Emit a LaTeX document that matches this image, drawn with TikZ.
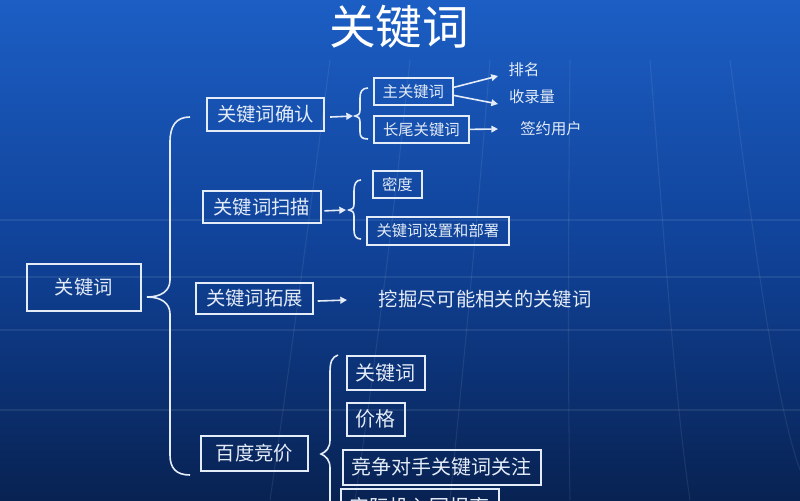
\documentclass[tikz,border=0pt]{standalone}
\usepackage{fontspec}
\setmainfont{Noto Sans CJK SC}
\usetikzlibrary{arrows.meta}
\definecolor{bgtop}{RGB}{28,94,196}
\definecolor{bgmid}{RGB}{16,66,152}
\definecolor{bgbot}{RGB}{8,34,82}
\definecolor{ink}{RGB}{228,236,248}
\tikzset{
  box/.style 2 args={draw=ink, line width=1.3pt, text=ink, inner sep=0pt, minimum width=#1*0.75pt, minimum height=#2*0.75pt, anchor=north west, align=center},
  lbl/.style={text=ink, inner sep=0pt},
  arr/.style={draw=ink, line width=1.2pt, -{Triangle[length=5pt,width=5pt]}},
  brace/.style={draw=ink, line width=1.2pt},
  grid/.style={draw=white, opacity=0.08, line width=0.8pt},
  big/.style={font=\fontsize{14.5pt}{14.5pt}\selectfont},
  small/.style={font=\fontsize{11.5pt}{11.5pt}\selectfont}
}
\begin{document}
\begin{tikzpicture}[x=0.75pt,y=-0.75pt]
\useasboundingbox (0,0) rectangle (800,500);
\shade[top color=bgtop, bottom color=bgbot, middle color=bgmid] (0,0) rectangle (800,500);
% faint globe grid
\draw[grid] (0,220) -- (800,220);
\draw[grid] (0,277) -- (800,277);
\draw[grid] (0,330) -- (800,330);
\draw[grid] (0,410) -- (800,410);
\draw[grid] (490,60) .. controls (475,250) and (460,400) .. (450,500);
\draw[grid] (570,60) .. controls (568,250) and (568,400) .. (570,500);
\draw[grid] (650,60) .. controls (665,250) and (675,400) .. (690,500);
\draw[grid] (730,60) .. controls (755,250) and (775,400) .. (800,470);
\draw[grid] (410,60) .. controls (390,250) and (370,400) .. (355,500);
\draw[grid] (330,60) .. controls (305,250) and (285,400) .. (270,500);
% title
\node[lbl, text=white, font=\fontsize{35pt}{35pt}\selectfont] (title) at (399,27) {关键词};
% root
\node[box={114}{47}, big] (root) at (26,263) {关键词};
% big brace
\draw[brace] (190,117) .. controls (176,117) and (170,126) .. (170,142) -- (170,280) .. controls (170,291) and (161,297) .. (147,297) .. controls (161,297) and (170,303) .. (170,314) -- (170,455) .. controls (170,468) and (176,475) .. (190,475);
% level 1
\node[box={117}{33}, big] (b1) at (206,97) {关键词确认};
\node[box={118}{32}, big] (b2) at (202,190) {关键词扫描};
\node[box={117}{31}, big] (b3) at (195,282) {关键词拓展};
\node[box={107}{35}, big] (b4) at (200,435) {百度竞价};
% branch 1
\coordinate (c1) at (353,116);
\draw[arr] ([xshift=4pt,yshift=-2pt]b1.east) -- (c1);
\draw[brace] (368,88) .. controls (362,88) and (360,92) .. (360,98) -- (360,110) .. controls (360,114) and (358,116) .. (355,116) .. controls (358,116) and (360,118) .. (360,122) -- (360,132) .. controls (360,137) and (362,139) .. (368,139);
\node[box={79}{27}, small] (k1) at (373,77) {主关键词};
\node[box={95}{27}, small] (k2) at (373,115) {长尾关键词};
\node[lbl, small] (r1) at (524,70) {排名};
\node[lbl, small] (r2) at (532,97) {收录量};
\node[lbl, small] (r3) at (551,129) {签约用户};
\coordinate (e1) at (498,76);
\coordinate (e2) at (498,104);
\coordinate (e3) at (498,129);
\draw[arr] ([yshift=3pt]k1.east) -- (e1);
\draw[arr] ([yshift=-3pt]k1.east) -- (e2);
\draw[arr] (k2.east) -- (e3);
% branch 2
\coordinate (c2) at (346,210);
\draw[arr] ([xshift=2pt,yshift=-3pt]b2.east) -- (c2);
\draw[brace] (361,180) .. controls (356,180) and (354,184) .. (354,191) -- (354,204) .. controls (354,208) and (352,210) .. (349,210) .. controls (352,210) and (354,212) .. (354,216) -- (354,230) .. controls (354,236) and (356,239) .. (361,239);
\node[box={49}{27}, small] (d1) at (372,170) {密度};
\node[box={142}{28}, small] (d2) at (366,216) {关键词设置和部署};
% branch 3
\coordinate (c3) at (347,300);
\draw[arr] ([xshift=3pt,yshift=-2pt]b3.east) -- (c3);
\node[lbl, big] (t3) at (485,299) {挖掘尽可能相关的关键词};
% branch 4
\draw[brace] (338,355) .. controls (332,357) and (330,362) .. (330,372) -- (330,440) .. controls (330,448) and (326,452) .. (321,454) .. controls (326,456) and (330,460) .. (330,468) -- (330,510);
\node[box={78}{34}, font=\fontsize{15pt}{15pt}\selectfont] (p1) at (346,355) {关键词};
\node[box={58}{33}, font=\fontsize{15pt}{15pt}\selectfont] (p2) at (346,402) {价格};
\node[box={198}{35}, font=\fontsize{15pt}{15pt}\selectfont] (p3) at (342,449) {竞争对手关键词关注};
\begin{scope}
\clip (0,0) rectangle (800,500);
\node[box={158}{35}, font=\fontsize{15pt}{15pt}\selectfont] (p4) at (340,488) {实际投入回报率};
\end{scope}
\end{tikzpicture}
\end{document}
